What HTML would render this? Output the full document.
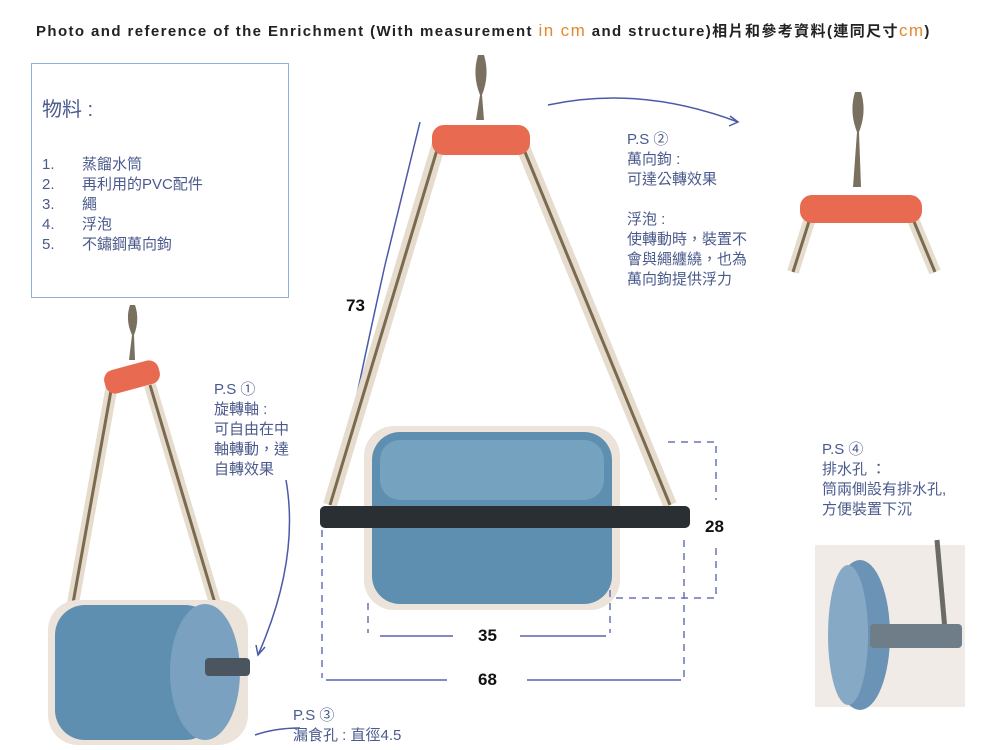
<!DOCTYPE html><html><head><meta charset="utf-8"><style>
body{margin:0;width:1000px;height:750px;background:#fff;position:relative;overflow:hidden;font-family:"Liberation Sans","Noto Sans CJK TC",sans-serif}
.t{position:absolute;color:#4b5a8c;font-size:15px;line-height:20px;white-space:nowrap}
.n{position:absolute;font-weight:bold;font-size:17px;color:#111}
</style></head><body>
<div style="position:absolute;left:36px;top:20px;font-size:15px;letter-spacing:1.4px;font-weight:bold;color:#222;white-space:nowrap">Photo and reference of the Enrichment (With measurement <span style="color:#e8862a;font-weight:normal;font-size:17px">in cm</span> and structure)相片和參考資料(連同尺寸<span style="color:#e8862a;font-weight:normal;font-size:17px">cm</span>)</div>
<div style="position:absolute;left:31px;top:63px;width:256px;height:233px;border:1.5px solid #8fb0d8"></div>
<div class="t" style="left:42px;top:100px;font-size:20px">物料 :</div>
<div class="t" style="left:42px;top:155px">1.<br>2.<br>3.<br>4.<br>5.</div>
<div class="t" style="left:82px;top:155px">蒸餾水筒<br>再利用的PVC配件<br>繩<br>浮泡<br>不鏽鋼萬向鉤</div>
<div class="t" style="left:627px;top:130px">P.S ②<br>萬向鉤 :<br>可達公轉效果<br><br>浮泡 :<br>使轉動時，裝置不<br>會與繩纏繞，也為<br>萬向鉤提供浮力</div>
<div class="t" style="left:214px;top:380px">P.S ①<br>旋轉軸 :<br>可自由在中<br>軸轉動，達<br>自轉效果</div>
<div class="t" style="left:822px;top:440px">P.S ④<br>排水孔 ：<br>筒兩側設有排水孔,<br>方便裝置下沉</div>
<div class="t" style="left:293px;top:706px">P.S ③<br>漏食孔 : 直徑4.5</div>
<svg width="1000" height="750" style="position:absolute;left:0;top:0">
<g fill="none" stroke="#4b5aa8" stroke-width="1.5">
<path d="M548 105 Q640 85 738 122"/><path d="M730 116 L738 122 L729 126"/>
<path d="M286 480 Q300 560 258 655"/><path d="M256 645 L258 655 L265 647"/>
<path d="M300 728 Q275 728 255 735"/>
<path d="M340 480 Q355 400 385 265"/><path d="M420 122 L385 265"/>
</g>
<line x1="440" y1="140" x2="330" y2="505" stroke="#e6dccd" stroke-width="14"/>
<line x1="520" y1="140" x2="670" y2="505" stroke="#e6dccd" stroke-width="14"/>
<line x1="440" y1="140" x2="330" y2="505" stroke="#7a6a50" stroke-width="3"/>
<line x1="520" y1="140" x2="670" y2="505" stroke="#7a6a50" stroke-width="3"/>
<path d="M478 55 q-6 20 2 40 l-4 25 l8 0 l-2 -25 q8 -20 2 -40z" fill="#7a7060"/>
<rect x="432" y="125" width="98" height="30" rx="12" fill="#e86a50"/>
<rect x="364" y="426" width="256" height="184" rx="30" fill="#ece4da"/>
<rect x="372" y="432" width="240" height="172" rx="28" fill="#5f8fb0"/>
<rect x="380" y="440" width="224" height="60" rx="20" fill="#7fa9c6" opacity=".7"/>
<rect x="320" y="506" width="370" height="22" rx="5" fill="#2a2f33"/>
<g stroke="#6a74b8" stroke-width="1.5" fill="none" stroke-dasharray="7,6">
<path d="M368 603 V633"/><path d="M610 590 V633"/><path d="M322 530 V678"/><path d="M684 540 V678"/>
<path d="M668 442 H716 V500"/><path d="M716 548 V598 H612"/>
</g>
<g stroke="#5a62b0" stroke-width="1.5"><path d="M380 636 H453 M520 636 H606 M326 680 H447 M527 680 H681"/></g>
<line x1="812" y1="212" x2="793" y2="272" stroke="#e6dccd" stroke-width="12"/>
<line x1="910" y1="212" x2="935" y2="272" stroke="#e6dccd" stroke-width="12"/>
<line x1="812" y1="212" x2="793" y2="272" stroke="#7a6a50" stroke-width="3"/>
<line x1="910" y1="212" x2="935" y2="272" stroke="#7a6a50" stroke-width="3"/>
<path d="M855 92 q-6 20 2 40 l-4 55 l8 0 l-2 -55 q8 -20 2 -40z" fill="#7a7060"/>
<rect x="800" y="195" width="122" height="28" rx="12" fill="#e86a50"/>
<line x1="112" y1="385" x2="70" y2="620" stroke="#e6dccd" stroke-width="12"/>
<line x1="150" y1="385" x2="220" y2="620" stroke="#e6dccd" stroke-width="12"/>
<line x1="112" y1="385" x2="70" y2="620" stroke="#7a6a50" stroke-width="3"/>
<line x1="150" y1="385" x2="220" y2="620" stroke="#7a6a50" stroke-width="3"/>
<path d="M130 305 q-5 15 2 30 l-3 25 l6 0 l-1 -25 q6 -15 1 -30z" fill="#7a7060"/>
<rect x="104" y="365" width="56" height="24" rx="10" fill="#e86a50" transform="rotate(-15 132 377)"/>
<rect x="48" y="600" width="200" height="145" rx="30" fill="#ece4da"/>
<rect x="55" y="605" width="160" height="135" rx="30" fill="#5f8fb0"/>
<ellipse cx="205" cy="672" rx="35" ry="68" fill="#7aa2c0"/>
<rect x="205" y="658" width="45" height="18" rx="4" fill="#4a5560"/>
<rect x="815" y="545" width="150" height="162" fill="#f0ebe6"/>
<line x1="937" y1="540" x2="945" y2="630" stroke="#6a6a66" stroke-width="5"/>
<ellipse cx="860" cy="635" rx="30" ry="75" fill="#6a93b5"/>
<ellipse cx="848" cy="635" rx="20" ry="70" fill="#86aac6"/>
<rect x="870" y="624" width="92" height="24" rx="4" fill="#6f7d88"/>
</svg>
<div class="n" style="left:346px;top:296px">73</div>
<div class="n" style="left:705px;top:517px">28</div>
<div class="n" style="left:478px;top:626px">35</div>
<div class="n" style="left:478px;top:670px">68</div>
</body></html>
